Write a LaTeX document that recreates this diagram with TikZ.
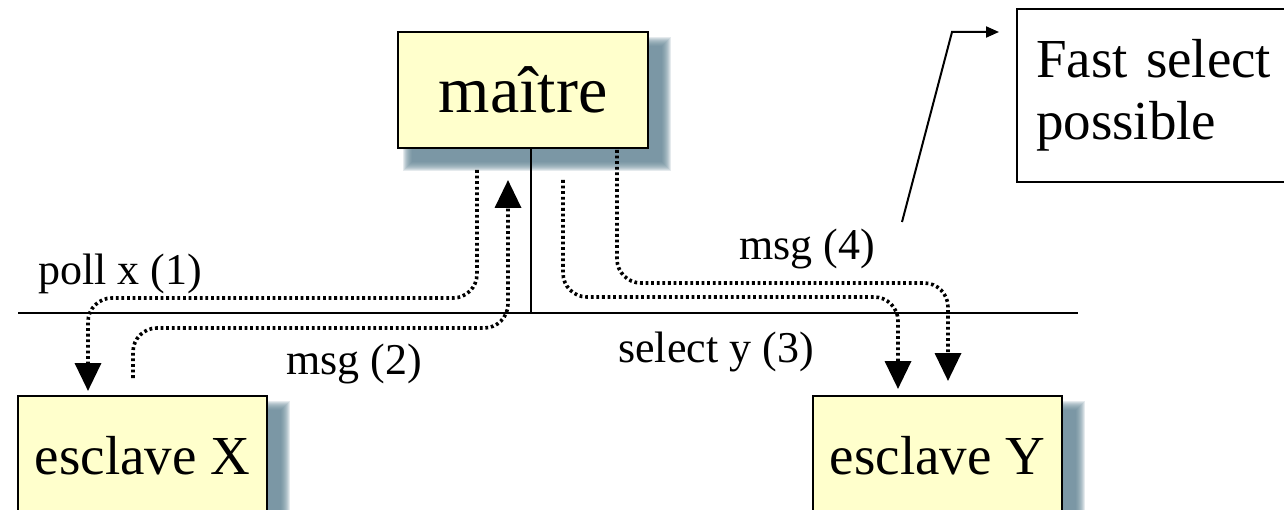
\documentclass[tikz,border=0pt]{standalone}
\usepackage{fontspec}
\setmainfont{Liberation Serif}
\usetikzlibrary{arrows.meta}
\definecolor{boxfill}{RGB}{255,255,204}
\definecolor{shc}{RGB}{98,132,148}
\newcommand\dropshadow[4]{%
  \foreach \k in {0,...,9}{%
    \fill[shc,opacity=0.17] ({#1+5+\k},{#2+5+\k}) rectangle ({#3+23-\k},{#4+23-\k});
  }}
\begin{document}
\begin{tikzpicture}[x=1pt,y=-1pt,
  ybox/.style={draw=black,line width=2pt,fill=boxfill,inner sep=0pt},
  lbl/.style={font=\fontsize{44}{48}\selectfont,inner sep=0pt},
  dotarrow/.style={line width=3.6pt,dash pattern=on 2.8pt off 2.8pt,rounded corners=24pt,
    -{Triangle[width=26pt,length=28pt]}},
  solidline/.style={line width=2pt}]
\useasboundingbox (0,0) rectangle (1284,510);
\clip (0,0) rectangle (1284,510);
% shadows
\dropshadow{398}{32}{648}{148}
\dropshadow{18}{396}{267}{520}
\dropshadow{813}{396}{1062}{520}
% boxes
\node[ybox,minimum width=250pt,minimum height=116pt,font=\fontsize{66}{70}\selectfont] (m) at (523,90) {maître};
\node[ybox,minimum width=249pt,minimum height=120pt,font=\fontsize{55}{60}\selectfont] (ex) at (142.5,456) {esclave X};
\node[ybox,minimum width=249pt,minimum height=120pt,font=\fontsize{55}{60}\selectfont] (ey) at (937.5,456) {esclave Y};
\node[draw=black,line width=2pt,fill=white,anchor=north west,text width=252pt,align=left,
  inner xsep=19pt,inner ysep=0pt,minimum height=173pt,font=\fontsize{55}{62}\selectfont] (fs) at (1016,8) {Fast select\\possible};
% bus
\coordinate (busL) at (18,313);
\coordinate (busR) at (1078,313);
\coordinate (busT) at (531,313);
\draw[solidline] (busL) -- (busR);
\draw[solidline] (m.south -| busT) -- (busT);
% labels
\node[lbl] (l1) at (120,274) {poll x (1)};
\node[lbl] (l2) at (354,364) {msg (2)};
\node[lbl] (l3) at (716,352) {select y (3)};
\node[lbl] (l4) at (807,249) {msg (4)};
% dotted flows
\coordinate (p1s) at (477,170);
\coordinate (p1e) at (88,391);
\draw[dotarrow] (p1s) -- (477,298) -- (88,298) -- (p1e);
\coordinate (p2s) at (133,378);
\coordinate (p2e) at (508,180);
\draw[dotarrow] (p2s) -- (133,328) -- (508,328) -- (p2e);
\coordinate (p3s) at (563,180);
\coordinate (p3e) at (898,389);
\draw[dotarrow] (p3s) -- (563,297) -- (898,297) -- (p3e);
\coordinate (p4s) at (617,150);
\coordinate (p4e) at (948,381);
\draw[dotarrow] (p4s) -- (617,283) -- (948,283) -- (p4e);
% leader
\coordinate (ls) at (902,222);
\coordinate (lk) at (952,32);
\coordinate (le) at (999,32);
\draw[solidline,-{Triangle[width=11pt,length=13pt]}] (ls) -- (lk) -- (le);
\end{tikzpicture}
\end{document}
